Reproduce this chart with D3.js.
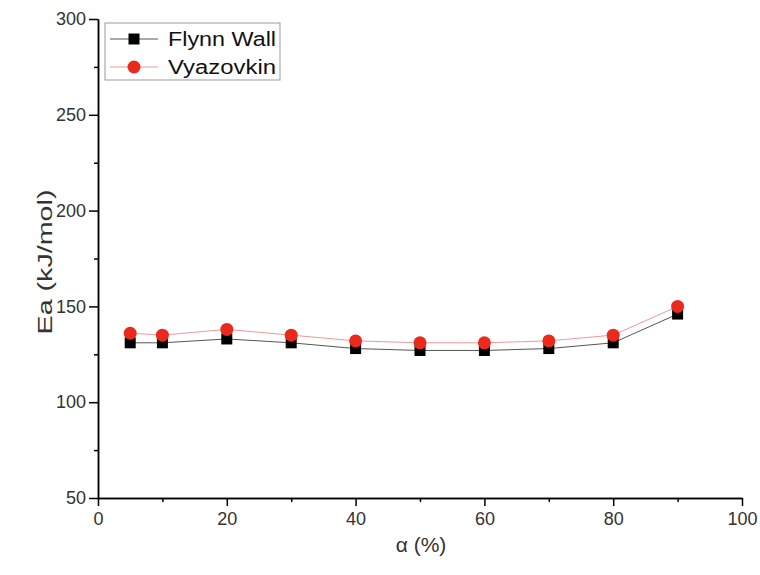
<!DOCTYPE html>
<html>
<head>
<meta charset="utf-8">
<script src="https://cdn.jsdelivr.net/npm/d3@7"></script>
<style>
  body { margin: 0; background: #fff; }
  svg { display: block; font-family: "Liberation Sans", Arial, sans-serif; }
  .axis path, .axis line { stroke: #000; stroke-width: 1.5; }
  .axis text { fill: #333; font-size: 18px; }
</style>
</head>
<body>
<div id="chart"></div>
<script>
// data
const alpha = [5, 10, 20, 30, 40, 50, 60, 70, 80, 90];
const flynnWall = [131, 131, 133, 131, 128, 127, 127, 128, 131, 146];
const vyazovkin = [136, 135, 138, 135, 132, 131, 131, 132, 135, 150];
const xTicks = [0, 20, 40, 60, 80, 100];
const xMinor = [10, 30, 50, 70, 90];
const yTicks = [50, 100, 150, 200, 250, 300];
const yMinor = [75, 125, 175, 225, 275];

const width = 760, height = 575;
const svg = d3.select("#chart").append("svg")
    .attr("width", width)
    .attr("height", height);

const x = d3.scaleLinear().domain([0, 100]).range([98, 742]);
const y = d3.scaleLinear().domain([50, 300]).range([498, 19]);

// axes
svg.append("g").attr("class", "axis")
    .attr("transform", "translate(0,498)")
    .call(d3.axisBottom(x).tickValues(xMinor).tickSize(4).tickFormat("").tickSizeOuter(0));
svg.append("g").attr("class", "axis")
    .attr("transform", "translate(0,498)")
    .call(d3.axisBottom(x).tickValues(xTicks).tickSize(8).tickPadding(6).tickSizeOuter(0));

svg.append("g").attr("class", "axis")
    .attr("transform", "translate(98,0)")
    .call(d3.axisLeft(y).tickValues(yMinor).tickSize(4).tickFormat("").tickSizeOuter(0));
svg.append("g").attr("class", "axis")
    .attr("transform", "translate(98,0)")
    .call(d3.axisLeft(y).tickValues(yTicks).tickSize(9).tickPadding(3).tickSizeOuter(0));

// axis titles
svg.append("text")
    .attr("x", 421).attr("y", 552)
    .attr("text-anchor", "middle")
    .style("font-size", "21px").style("fill", "#333")
    .text("α (%)");

svg.append("text")
    .attr("transform", "translate(52,262) rotate(-90)")
    .attr("text-anchor", "middle")
    .attr("textLength", 145).attr("lengthAdjust", "spacingAndGlyphs")
    .style("font-size", "21px").style("fill", "#333")
    .text("Ea (kJ/mol)");

const flynnData = alpha.map((a, i) => ({ a: a, v: flynnWall[i] }));
const vyazData = alpha.map((a, i) => ({ a: a, v: vyazovkin[i] }));

const line = d3.line().x(d => x(d.a)).y(d => y(d.v));

// Flynn Wall
svg.append("path")
    .attr("d", line(flynnData))
    .attr("fill", "none")
    .attr("stroke", "#555")
    .attr("stroke-width", 1);
svg.append("g").selectAll("rect")
    .data(flynnData)
    .enter().append("rect")
    .attr("x", d => x(d.a) - 5.5)
    .attr("y", d => y(d.v) - 5.5)
    .attr("width", 11).attr("height", 11)
    .attr("fill", "#000");

// Vyazovkin
svg.append("path")
    .attr("d", line(vyazData))
    .attr("fill", "none")
    .attr("stroke", "#e99")
    .attr("stroke-width", 1);
svg.append("g").selectAll("circle")
    .data(vyazData)
    .enter().append("circle")
    .attr("cx", d => x(d.a))
    .attr("cy", d => y(d.v))
    .attr("r", 6.5)
    .attr("fill", "#ea2a1c");

// legend
const legend = svg.append("g");
legend.append("rect")
    .attr("x", 105).attr("y", 23).attr("width", 175).attr("height", 57)
    .attr("fill", "#fff").attr("stroke", "#999").attr("stroke-width", 1);

legend.append("line")
    .attr("x1", 110).attr("x2", 158).attr("y1", 39).attr("y2", 39)
    .attr("stroke", "#555");
legend.append("rect")
    .attr("x", 134 - 5.5).attr("y", 39 - 5.5).attr("width", 11).attr("height", 11)
    .attr("fill", "#000");
legend.append("text")
    .attr("x", 168).attr("y", 46)
    .attr("textLength", 108).attr("lengthAdjust", "spacingAndGlyphs")
    .style("font-size", "20px").style("fill", "#111")
    .text("Flynn Wall");

legend.append("line")
    .attr("x1", 110).attr("x2", 158).attr("y1", 67).attr("y2", 67)
    .attr("stroke", "#e99");
legend.append("circle")
    .attr("cx", 134).attr("cy", 67).attr("r", 6.5)
    .attr("fill", "#ea2a1c");
legend.append("text")
    .attr("x", 168).attr("y", 74)
    .attr("textLength", 108).attr("lengthAdjust", "spacingAndGlyphs")
    .style("font-size", "20px").style("fill", "#111")
    .text("Vyazovkin");
</script>
</body>
</html>
